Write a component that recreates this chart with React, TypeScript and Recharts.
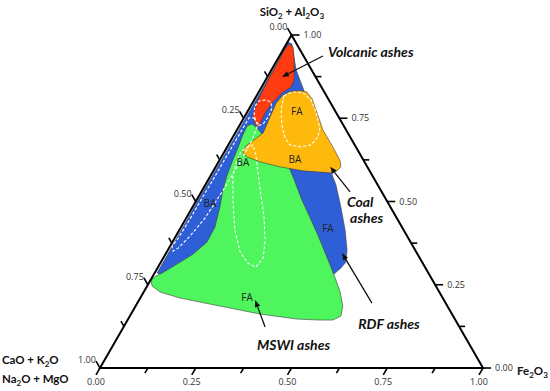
import React from "react";
import { ScatterChart, Scatter, XAxis, YAxis } from "recharts";

// points are [x, y] inside the triangle: y = SiO2 + Al2O3 fraction (1 = top corner),
// x runs along the base from the CaO+K2O+Na2O+MgO corner (0) to the Fe2O3 corner (1)
type Pt = [number, number];

const rdfAshes: Pt[] = [
  [0.491, 0.979], [0.501, 0.973], [0.512, 0.895], [0.53, 0.841], [0.569, 0.715],
  [0.601, 0.595], [0.616, 0.55], [0.629, 0.483], [0.64, 0.414], [0.645, 0.354],
  [0.642, 0.318], [0.629, 0.3], [0.611, 0.282], [0.561, 0.3], [0.418, 0.318],
  [0.261, 0.33], [0.209, 0.306], [0.157, 0.282], [0.149, 0.285], [0.257, 0.505],
  [0.363, 0.715], [0.467, 0.925],
];

const mswiAshes: Pt[] = [
  [0.384, 0.727], [0.397, 0.733], [0.41, 0.721], [0.457, 0.655], [0.491, 0.61],
  [0.507, 0.565], [0.527, 0.505], [0.548, 0.453], [0.569, 0.399], [0.585, 0.354],
  [0.601, 0.309], [0.614, 0.27], [0.627, 0.228], [0.634, 0.186], [0.629, 0.156],
  [0.608, 0.144], [0.574, 0.144], [0.514, 0.147], [0.418, 0.162], [0.339, 0.18],
  [0.261, 0.198], [0.209, 0.21], [0.157, 0.228], [0.136, 0.246], [0.133, 0.264],
  [0.146, 0.276], [0.162, 0.285], [0.201, 0.312], [0.243, 0.342], [0.279, 0.378],
  [0.3, 0.423], [0.313, 0.483], [0.321, 0.535], [0.332, 0.58], [0.347, 0.625],
  [0.36, 0.661], [0.373, 0.7],
];

const volcanicAshes: Pt[] = [
  [0.493, 0.973], [0.504, 0.964], [0.507, 0.925], [0.507, 0.865], [0.499, 0.844],
  [0.478, 0.829], [0.449, 0.796], [0.431, 0.766], [0.42, 0.739], [0.413, 0.724],
  [0.405, 0.733], [0.399, 0.76], [0.413, 0.805], [0.439, 0.865], [0.465, 0.919],
  [0.483, 0.958],
];

const coalAshes: Pt[] = [
  [0.478, 0.82], [0.496, 0.83], [0.522, 0.833], [0.54, 0.829], [0.554, 0.808],
  [0.564, 0.775], [0.582, 0.715], [0.608, 0.664], [0.627, 0.622], [0.629, 0.604],
  [0.619, 0.592], [0.601, 0.586], [0.53, 0.592], [0.47, 0.604], [0.418, 0.619],
  [0.384, 0.634], [0.373, 0.649], [0.381, 0.667], [0.399, 0.682], [0.426, 0.706],
  [0.444, 0.754], [0.46, 0.796],
];

// dashed outlines
const coalFaLoop: Pt[] = [
  [0.48, 0.817], [0.501, 0.829], [0.53, 0.826], [0.551, 0.805], [0.564, 0.769],
  [0.574, 0.721], [0.569, 0.694], [0.551, 0.67], [0.522, 0.664], [0.496, 0.67],
  [0.483, 0.691], [0.475, 0.73], [0.473, 0.775],
];
const volcanicLoop: Pt[] = [
  [0.405, 0.787], [0.415, 0.802], [0.433, 0.805], [0.446, 0.799], [0.449, 0.781],
  [0.441, 0.757], [0.426, 0.733], [0.413, 0.727], [0.405, 0.745], [0.402, 0.769],
];
const rdfBaLoop: Pt[] = [
  [0.402, 0.751], [0.413, 0.733], [0.397, 0.685], [0.366, 0.619], [0.319, 0.529],
  [0.274, 0.45], [0.235, 0.396], [0.204, 0.36], [0.191, 0.351], [0.188, 0.366],
  [0.201, 0.384], [0.23, 0.438], [0.264, 0.505], [0.298, 0.571], [0.337, 0.649],
  [0.366, 0.706], [0.389, 0.751],
];
const mswiBaLoop: Pt[] = [
  [0.381, 0.661], [0.399, 0.67], [0.407, 0.64], [0.413, 0.58], [0.42, 0.52],
  [0.428, 0.459], [0.431, 0.384], [0.426, 0.33], [0.407, 0.303], [0.386, 0.315],
  [0.366, 0.348], [0.352, 0.414], [0.347, 0.505], [0.347, 0.58], [0.358, 0.625],
  [0.368, 0.649],
];

const frame: Pt[] = [[0, 0], [1, 0], [0.5, 1]];

const tickSteps = [0, 0.125, 0.25, 0.375, 0.5, 0.625, 0.75, 0.875, 1];
const tickLabels = ["0.00", "", "0.25", "", "0.50", "", "0.75", "", "1.00"];

// arrows: [tail, head]
const arrows: Pt[][] = [
  [[0.582, 0.937], [0.475, 0.874]],
  [[0.653, 0.529], [0.601, 0.604]],
  [[0.71, 0.195], [0.632, 0.345]],
  [[0.431, 0.123], [0.405, 0.204]],
];

const groupNames = [
  { x: 0.595, y: 0.934, text: "Volcanic ashes" },
  { x: 0.645, y: 0.483, text: "Coal" },
  { x: 0.653, y: 0.435, text: "ashes" },
  { x: 0.674, y: 0.117, text: "RDF ashes" },
  { x: 0.41, y: 0.054, text: "MSWI ashes" },
];

const ashTags = [
  { x: 0.514, y: 0.769, text: "FA" },
  { x: 0.509, y: 0.625, text: "BA" },
  { x: 0.373, y: 0.616, text: "BA" },
  { x: 0.287, y: 0.495, text: "BA" },
  { x: 0.595, y: 0.42, text: "FA" },
  { x: 0.384, y: 0.213, text: "FA" },
];

const cornerNames = [
  { x: 0.501, y: 1.057, text: "SiO2 + Al2O3", anchor: "middle" },
  { x: -0.256, y: 0.012, text: "CaO + K2O", anchor: "start" },
  { x: -0.256, y: -0.045, text: "Na2O + MgO", anchor: "start" },
  { x: 1.089, y: -0.021, text: "Fe2O3", anchor: "start" },
];

const W = 550;
const H = 391;
// pixel frame of the triangle
const LEFT = 100;
const BASE = 383;
const BOTTOM = 368;
const HEIGHT = 333;
const xDomain = [-LEFT / BASE, (W - LEFT) / BASE];
const yDomain = [(BOTTOM - H) / HEIGHT, BOTTOM / HEIGHT];

const rows = (pts: Pt[]) => pts.map(([x, y]) => ({ x, y }));

const bottomTicks = tickSteps.map((t, i) => ({ x: t, y: 0, label: tickLabels[i] }));
const rightTicks = tickSteps.map((t, i) => ({ x: 1 - t / 2, y: t, label: tickLabels[i] }));
const leftTicks = tickSteps.map((t, i) => ({ x: (1 - t) / 2, y: 1 - t, label: tickLabels[i] }));

const COLORS = {
  rdf: "#2f5fd6",
  mswi: "#4ef55c",
  volcanic: "#ff3b12",
  coal: "#ffb90c",
};

const noDot = () => <g />;

const chem = (text: string) => {
  const parts = text.split(/(\d+)/).filter((p) => p !== "");
  let low = false;
  return parts.map((p, i) => {
    const isSub = /^\d+$/.test(p);
    const dy = isSub && !low ? 3 : !isSub && low ? -3 : 0;
    low = isSub;
    return (
      <tspan key={i} dy={dy} fontSize={isSub ? 8 : undefined}>
        {p}
      </tspan>
    );
  });
};

const tickShape = (side: "bottom" | "left" | "right") => (props: any) => {
  const { cx, cy, payload } = props;
  const major = payload.label !== "";
  const len = major ? 8 : 6;
  let dx = 0;
  let dy = 0;
  let lx = 0;
  let ly = 0;
  let anchor: "start" | "middle" = "middle";
  if (side === "bottom") {
    dx = -0.5 * len;
    dy = 0.866 * len;
    lx = cx - 4;
    ly = cy + 17;
  } else if (side === "left") {
    dx = -0.5 * len;
    dy = -0.866 * len;
    lx = cx - 13;
    ly = cy - 5;
  } else {
    dx = len;
    lx = cx + 12;
    ly = cy + 3;
    anchor = "start";
  }
  return (
    <g>
      <line x1={cx} y1={cy} x2={cx + dx} y2={cy + dy} stroke="#000" strokeWidth={1.6} />
      {major && (
        <text x={lx} y={ly} textAnchor={anchor} fontSize={9} fontFamily="Open Sans" fill="#333">
          {payload.label}
        </text>
      )}
    </g>
  );
};

const arrowLine = (props: any) => {
  const [a, b] = props.points;
  const dx = b.x - a.x;
  const dy = b.y - a.y;
  const len = Math.hypot(dx, dy) || 1;
  const ux = dx / len;
  const uy = dy / len;
  const head = 7;
  const half = 2.8;
  const bx = b.x - ux * head;
  const by = b.y - uy * head;
  return (
    <g>
      <line x1={a.x} y1={a.y} x2={bx} y2={by} stroke="#111" strokeWidth={1.3} />
      <polygon
        points={`${b.x},${b.y} ${bx - uy * half},${by + ux * half} ${bx + uy * half},${by - ux * half}`}
        fill="#111"
      />
    </g>
  );
};

const groupShape = (props: any) => (
  <text
    x={props.cx}
    y={props.cy}
    fontSize={14}
    fontWeight="bold"
    fontStyle="italic"
    fontFamily="Lato"
    fill="#111"
  >
    {props.payload.text}
  </text>
);

const tagShape = (props: any) => (
  <text
    x={props.cx}
    y={props.cy + 3.5}
    textAnchor="middle"
    fontSize={10}
    fontFamily="Open Sans"
    fill="#222"
  >
    {props.payload.text}
  </text>
);

const cornerShape = (props: any) => (
  <text
    x={props.cx}
    y={props.cy}
    textAnchor={props.payload.anchor}
    fontSize={11.5}
    fontWeight="bold"
    fontFamily="Lato"
    fill="#111"
  >
    {chem(props.payload.text)}
  </text>
);

const region = (key: string, pts: Pt[], fill: string) => (
  <Scatter
    key={key}
    data={rows(pts)}
    fill={fill}
    shape={noDot}
    line={{ fill, stroke: "#3c3c3c", strokeWidth: 0.6 }}
    lineJointType="linearClosed"
    isAnimationActive={false}
  />
);

const dashed = (key: string, pts: Pt[]) => (
  <Scatter
    key={key}
    data={rows(pts)}
    fill="#fff"
    shape={noDot}
    line={{ fill: "none", stroke: "#fff", strokeWidth: 1.1, strokeDasharray: "3 2" }}
    lineJointType="linearClosed"
    isAnimationActive={false}
  />
);

export default function App() {
  return (
    <div style={{ position: "absolute", left: 0, top: 0, background: "#fff" }}>
      <ScatterChart width={W} height={H} margin={{ top: 0, right: 0, bottom: 0, left: 0 }}>
        <XAxis type="number" dataKey="x" domain={xDomain} hide />
        <YAxis type="number" dataKey="y" domain={yDomain} hide />
        {region("rdf", rdfAshes, COLORS.rdf)}
        {region("mswi", mswiAshes, COLORS.mswi)}
        {region("volcanic", volcanicAshes, COLORS.volcanic)}
        {region("coal", coalAshes, COLORS.coal)}
        {dashed("l1", coalFaLoop)}
        {dashed("l2", volcanicLoop)}
        {dashed("l3", rdfBaLoop)}
        {dashed("l4", mswiBaLoop)}
        <Scatter
          data={rows(frame)}
          fill="#000"
          shape={noDot}
          line={{ fill: "none", stroke: "#000", strokeWidth: 2 }}
          lineJointType="linearClosed"
          isAnimationActive={false}
        />
        <Scatter data={bottomTicks} fill="#000" shape={tickShape("bottom")} isAnimationActive={false} />
        <Scatter data={leftTicks} fill="#000" shape={tickShape("left")} isAnimationActive={false} />
        <Scatter data={rightTicks} fill="#000" shape={tickShape("right")} isAnimationActive={false} />
        {arrows.map((a, i) => (
          <Scatter
            key={`arrow${i}`}
            data={rows(a)}
            fill="#111"
            shape={noDot}
            line={arrowLine}
            isAnimationActive={false}
          />
        ))}
        <Scatter data={ashTags} fill="#000" shape={tagShape} isAnimationActive={false} />
        <Scatter data={groupNames} fill="#000" shape={groupShape} isAnimationActive={false} />
        <Scatter data={cornerNames} fill="#000" shape={cornerShape} isAnimationActive={false} />
      </ScatterChart>
    </div>
  );
}
